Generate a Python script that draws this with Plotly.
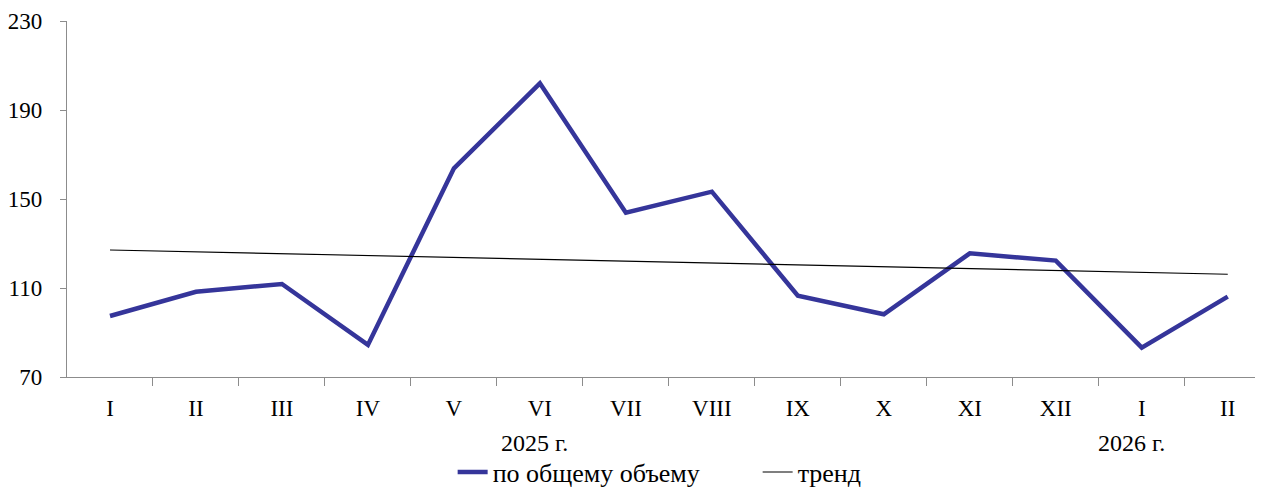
import plotly.graph_objects as go

months = ["I", "II", "III", "IV", "V", "VI", "VII", "VIII", "IX", "X", "XI", "XII", "I", "II"]
total_volume = [97.4, 108.3, 111.8, 84.4, 163.8, 202.0, 143.8, 153.3, 106.5, 98.2, 125.6, 122.3, 83.2, 106.1]
trend_ends = [127.1, 116.2]
year_labels = ["2025 г.", "2026 г."]
year_positions = [5, 12]
y_ticks = [70, 110, 150, 190, 230]

FONT = "Liberation Serif"
FS = 23
FS_YEAR = 24
FS_LEG = 26

x_idx = list(range(len(months)))

fig = go.Figure()
fig.add_trace(go.Scatter(
    x=x_idx, y=total_volume, mode="lines", name="по общему объему",
    line=dict(color="#35359A", width=4.5), xaxis="x", yaxis="y",
))
fig.add_trace(go.Scatter(
    x=[x_idx[0], x_idx[-1]], y=trend_ends, mode="lines", name="тренд",
    line=dict(color="black", width=1.1), xaxis="x", yaxis="y",
))
# invisible trace to activate the tick-mark axis
fig.add_trace(go.Scatter(x=[None], y=[None], xaxis="x2", yaxis="y",
                         showlegend=False, hoverinfo="skip"))

xrange = [-0.5, 13.41]
fig.update_layout(
    width=1255, height=479,
    margin=dict(l=59, r=0, t=13, b=110, autoexpand=False),
    paper_bgcolor="white", plot_bgcolor="white",
    font=dict(family=FONT, size=FS, color="black"),
    showlegend=True,
    legend=dict(orientation="h", xref="container", yref="container",
                x=0.3543, xanchor="left", y=0.031, yanchor="middle",
                font=dict(family=FONT, size=FS_LEG), itemwidth=30,
                entrywidth=260, entrywidthmode="pixels",
                bgcolor="rgba(0,0,0,0)"),
    xaxis=dict(range=xrange, tickvals=x_idx, ticktext=months, ticks="",
               showline=True, linecolor="#8c8c8c", linewidth=1.3,
               showgrid=False, zeroline=False, ticklabelstandoff=10,
               automargin=False, tickfont=dict(family=FONT, size=FS)),
    xaxis2=dict(range=xrange, overlaying="x", side="bottom", anchor="y",
                tickvals=[i + 0.5 for i in x_idx[:-1]], ticks="outside", ticklen=8,
                tickcolor="#8c8c8c", tickwidth=1.3, showticklabels=False,
                showgrid=False, zeroline=False, showline=False, automargin=False),
    yaxis=dict(range=[70, 230], tickvals=y_ticks, ticks="outside", ticklen=6,
               tickcolor="#8c8c8c", tickwidth=1.3,
               showline=True, linecolor="#8c8c8c", linewidth=1.3,
               showgrid=False, zeroline=False, ticklabelstandoff=13,
               automargin=False, tickfont=dict(family=FONT, size=FS)),
)

for lbl, pos, shift in zip(year_labels, year_positions, [-5, -10]):
    fig.add_annotation(x=pos, y=-0.185, xref="x", yref="paper", text=lbl,
                       showarrow=False, font=dict(family=FONT, size=FS_YEAR),
                       xanchor="center", yanchor="middle", xshift=shift)

fig.write_html("out.html")
